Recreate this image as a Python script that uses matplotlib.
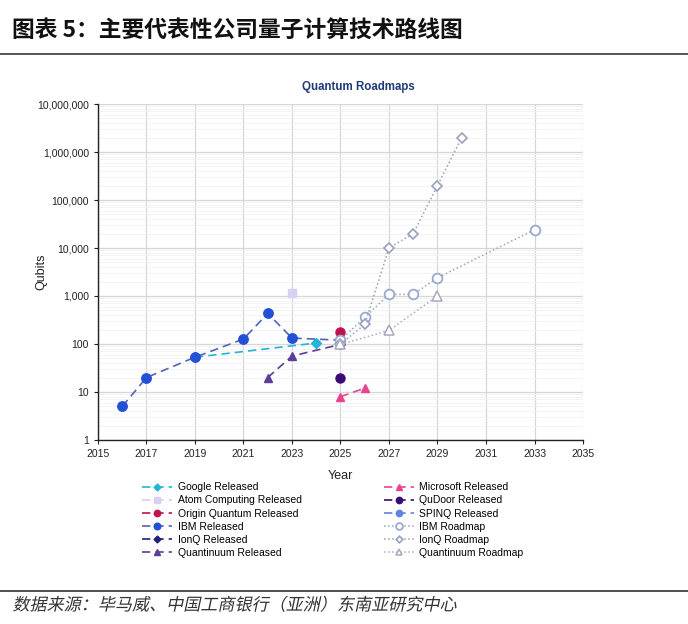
import numpy as np
import matplotlib
matplotlib.use("Agg")
import matplotlib.pyplot as plt
import matplotlib.patheffects as pe
from matplotlib.transforms import Affine2D
from matplotlib.ticker import FuncFormatter, LogLocator, NullFormatter

plt.rcParams['font.family'] = ['Liberation Sans', 'Noto Sans CJK SC', 'DejaVu Sans']

# ---- data ----
google_year = [2019, 2024]
google_qubits = [53, 105]

atom_year = [2023]
atom_qubits = [1180]

origin_year = [2025]
origin_qubits = [180]

ibm_year = [2016, 2017, 2019, 2021, 2022, 2023, 2025]
ibm_qubits = [5, 20, 53, 127, 433, 133, 120]

ionq_year = [2025]
ionq_qubits = [100]

quantinuum_year = [2022, 2023, 2025]
quantinuum_qubits = [20, 56, 98]

microsoft_year = [2025, 2026]
microsoft_qubits = [8, 12]

qudoor_year = [2025]
qudoor_qubits = [20]

spinq_year = [2025]
spinq_qubits = [110]

ibm_rm_year = [2025, 2026, 2027, 2028, 2029, 2033]
ibm_rm_qubits = [120, 360, 1080, 1080, 2400, 24000]

ionq_rm_year = [2025, 2026, 2027, 2028, 2029, 2030]
ionq_rm_qubits = [100, 256, 10000, 20000, 200000, 2000000]

quantinuum_rm_year = [2025, 2027, 2029]
quantinuum_rm_qubits = [98, 192, 1000]

x_ticks = list(range(2015, 2036, 2))


class Slant(pe.AbstractPathEffect):
    # fake italic for CJK text: shear the glyph paths
    def __init__(self, deg=12):
        super().__init__()
        self.deg = deg

    def draw_path(self, renderer, gc, tpath, affine, rgbFace=None):
        renderer.draw_path(gc, tpath, Affine2D().skew_deg(self.deg, 0) + affine, rgbFace)


fig = plt.figure(figsize=(6.88, 6.24), dpi=100)

# header and footer
fig.text(0.018, 0.952, '图表 5：主要代表性公司量子计算技术路线图', fontsize=16.4,
         fontweight='bold', va='center', color='#111111',
         family=['Noto Sans CJK SC', 'DejaVu Sans'])
fig.add_artist(plt.Line2D([0, 1], [0.913, 0.913], color='#555555', lw=1.4))
fig.add_artist(plt.Line2D([0, 1], [0.053, 0.053], color='#333333', lw=1.2))
fig.text(0.018, 0.030, '数据来源：毕马威、中国工商银行（亚洲）东南亚研究中心', fontsize=12.3,
         va='center', color='#333333', family=['Noto Sans CJK SC', 'DejaVu Sans'],
         path_effects=[Slant(12)])

ax = fig.add_axes([0.1424, 0.2949, 0.705, 0.5384])

ax.plot(google_year, google_qubits, ls=(0, (5, 3)), color='#22b5d8', lw=1.2,
        marker='D', ms=5, label='Google Released')
ax.plot(atom_year, atom_qubits, ls=(0, (5, 3)), color='#d8d0f0', lw=1.2,
        marker='s', ms=6, label='Atom Computing Released')
ax.plot(origin_year, origin_qubits, ls=(0, (5, 3)), color='#c0104e', lw=1.2,
        marker='o', ms=6.5, label='Origin Quantum Released')
ax.plot(ibm_year, ibm_qubits, ls=(0, (5, 3)), color='#5462b8', lw=1.2,
        marker='o', ms=6.8, mfc='#2450d8', mec='#2450d8', label='IBM Released')
ax.plot(ionq_year, ionq_qubits, ls=(0, (5, 3)), color='#1c2378', lw=1.2,
        marker='D', ms=5, label='IonQ Released')
ax.plot(quantinuum_year, quantinuum_qubits, ls=(0, (5, 3)), color='#5c3d98', lw=1.2,
        marker='^', ms=5.5, label='Quantinuum Released')
ax.plot(microsoft_year, microsoft_qubits, ls=(0, (5, 3)), color='#e8438f', lw=1.2,
        marker='^', ms=6, label='Microsoft Released')
ax.plot(qudoor_year, qudoor_qubits, ls=(0, (5, 3)), color='#3a0a78', lw=1.2,
        marker='o', ms=6.5, label='QuDoor Released')
ax.plot(spinq_year, spinq_qubits, ls=(0, (5, 3)), color='#6283de', lw=1.2,
        marker='o', ms=6.5, label='SPINQ Released')
ax.plot(ibm_rm_year, ibm_rm_qubits, ls=':', color='#9aa6c8', lw=1.1,
        marker='o', ms=7, mfc='white', mec='#9aa8d2', mew=1.3, label='IBM Roadmap')
ax.plot(ionq_rm_year, ionq_rm_qubits, ls=':', color='#9a9eb8', lw=1.1,
        marker='D', ms=4.8, mfc='white', mec='#9aa0c2', mew=1.2, label='IonQ Roadmap')
ax.plot(quantinuum_rm_year, quantinuum_rm_qubits, ls=':', color='#aaaabc', lw=1.1,
        marker='^', ms=6.5, mfc='white', mec='#a8a8c0', mew=1.1, label='Quantinuum Roadmap')

ax.set_yscale('log')
ax.set_ylim(1, 1e7)
ax.set_xlim(2015, 2035)
ax.set_xticks(x_ticks)
ax.yaxis.set_major_locator(LogLocator(base=10, numticks=10))
ax.yaxis.set_minor_locator(LogLocator(base=10, subs=np.arange(2, 10), numticks=10))
ax.yaxis.set_major_formatter(FuncFormatter(lambda v, p: f'{v:,.0f}'))
ax.yaxis.set_minor_formatter(NullFormatter())

ax.grid(True, which='major', color='#d6d6d6', lw=0.9)
ax.grid(True, which='minor', axis='y', color='#f1f1f1', lw=0.6)
ax.set_axisbelow(True)

for s in ['top', 'right']:
    ax.spines[s].set_visible(False)
for s in ['left', 'bottom']:
    ax.spines[s].set_color('#222222')
    ax.spines[s].set_linewidth(1.0)
ax.tick_params(which='major', labelsize=7.5, length=3, color='#222222', labelcolor='#222222')
ax.tick_params(which='minor', length=0)

ax.set_title('Quantum Roadmaps', fontsize=8.3, fontweight='bold', color='#1f3a78',
             pad=10, x=0.536)
ax.set_ylabel('Qubits', fontsize=9, color='#222222')
ax.yaxis.set_label_coords(-0.105, 0.5)
ax.set_xlabel('Year', fontsize=9, color='#222222', labelpad=8)

handles, labels = ax.get_legend_handles_labels()
fig.legend(handles, labels, ncol=2, loc='upper left', bbox_to_anchor=(0.193, 0.242),
           frameon=False, fontsize=7.5, handlelength=2.9, handletextpad=0.5,
           columnspacing=7.9, labelspacing=0.3, markerscale=0.7)

fig.savefig('out.png', dpi=100)
